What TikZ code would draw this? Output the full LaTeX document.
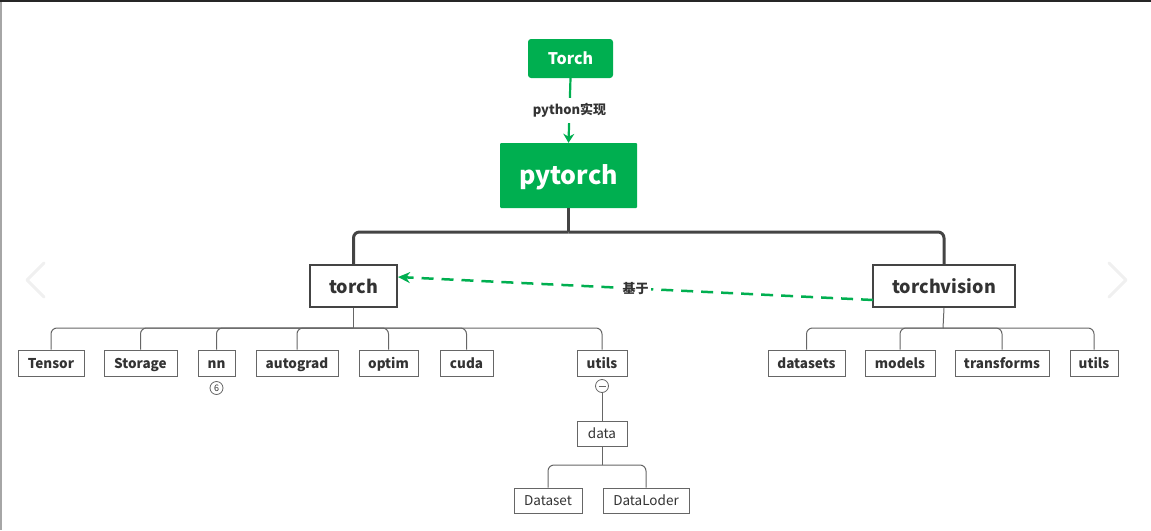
\documentclass[tikz,border=0pt]{standalone}
\usepackage{fontspec}
\setmainfont{Noto Sans CJK SC}
\usetikzlibrary{arrows.meta}
\definecolor{tgreen}{HTML}{00AF50}
\definecolor{dark}{HTML}{444444}
\definecolor{txt}{HTML}{333333}
\definecolor{lgray}{HTML}{666666}
\tikzset{
  greenbox/.style={fill=tgreen,text=white,font=\bfseries,rounded corners=3pt,inner sep=0pt},
  lvlone/.style={draw=dark,line width=2.5pt,fill=white,text=txt,inner sep=0pt,text height=16pt,text depth=2pt,font=\bfseries\fontsize{18}{22}\selectfont},
  leaf/.style={draw=lgray,line width=1pt,fill=white,text=txt,inner sep=0pt,minimum height=26pt,text height=12pt,text depth=2pt,font=\bfseries\fontsize{13.5}{16}\selectfont},
  leafr/.style={leaf,font=\fontsize{13.5}{16}\selectfont},
  trunk/.style={draw=dark,line width=3pt,rounded corners=6pt},
  branch/.style={draw=lgray,line width=1pt,rounded corners=6pt},
  gdash/.style={draw=tgreen,line width=2.5pt,dash pattern=on 12pt off 8pt},
  lbl/.style={fill=white,text=txt,inner sep=2pt,font=\bfseries\fontsize{13}{15}\selectfont},
  marker/.style={circle,draw=lgray,line width=0.8pt,fill=white,minimum size=13pt,inner sep=0pt,font=\fontsize{9}{10}\selectfont,text=txt},
  nav/.style={draw=gray!12,line width=3pt,line cap=round,line join=round}
}
\begin{document}
\begin{tikzpicture}[x=1pt,y=-1pt]
\useasboundingbox (0,0) rectangle (1151,530);
\fill[fill=black!85] (0,0) rectangle (1151,2);
\fill[fill=gray!70] (0,2) rectangle (1.5,530);
% nav chevrons
\draw[nav] (44,263) -- (27,280) -- (44,297);
\draw[nav] (1109,263) -- (1126,280) -- (1109,297);

% top nodes
\node[greenbox,minimum width=85pt,minimum height=39pt,text height=14pt,text depth=2pt,font=\bfseries\fontsize{16}{18}\selectfont] (Torch) at (570.5,58.5) {Torch};
\node[greenbox,rounded corners=1pt,minimum width=137pt,minimum height=65pt,text height=21pt,text depth=3pt,font=\bfseries\fontsize{25}{30}\selectfont] (pytorch) at (568.5,175.5) {pytorch};
\draw[tgreen,line width=2.2pt,-{Stealth[length=9pt,width=11pt]}] (Torch.south) -- node[lbl,inner sep=5pt] (impl) {python实现} (pytorch.north);

% level one
\node[lvlone,minimum width=87pt,minimum height=42pt] (torch) at (353.5,286) {torch};
\node[lvlone,minimum width=142pt,minimum height=42pt] (torchvision) at (944,286) {torchvision};
\coordinate (pt) at (568.5,232);
\draw[trunk] (pytorch.south) -- (pt);
\draw[trunk] (pt) -| (torch.north);
\draw[trunk] (pt) -| (torchvision.north);

% based-on arrow
\coordinate (tvw) at (873,300);
\coordinate (tre) at (398,277);
\draw[gdash,-{Stealth[length=12pt,width=11pt]}] (tvw) -- node[pos=0.5,lbl] (based) {基于} (tre);

% torch children
\node[leaf,minimum width=66pt] (Tensor) at (51,363) {Tensor};
\node[leaf,minimum width=73pt] (Storage) at (140.5,363) {Storage};
\node[leaf,minimum width=37pt] (nn) at (216.5,363) {nn};
\node[leaf,minimum width=82pt] (autograd) at (297,363) {autograd};
\node[leaf,minimum width=59pt] (optim) at (388.5,363) {optim};
\node[leaf,minimum width=53pt] (cuda) at (466.5,363) {cuda};
\node[leaf,minimum width=50pt] (utils) at (602,363) {utils};
\coordinate (tb) at (353.5,328);
\draw[branch] (torch.south) -- (tb);
\foreach \c in {Tensor,Storage,nn,autograd,optim,cuda,utils}
  \draw[branch] (tb) -| (\c.north);
\node[marker] (six) at (216.5,388) {6};
\node[marker] (minus) at (602,386) {};
\draw[lgray,line width=0.8pt] ([xshift=-3.5pt]minus.center) -- ([xshift=3.5pt]minus.center);

% utils -> data
\node[leafr,minimum width=50pt,minimum height=25pt] (data) at (602,433.5) {data};
\draw[branch] (minus.south) -- (data.north);
\node[leafr,minimum width=68pt,minimum height=25pt] (Dataset) at (548,500.5) {Dataset};
\node[leafr,minimum width=86pt,minimum height=25pt] (DataLoder) at (646,500.5) {DataLoder};
\coordinate (db) at (602,465);
\draw[branch] (data.south) -- (db);
\draw[branch] (db) -| (Dataset.north);
\draw[branch] (db) -| (DataLoder.north);

% torchvision children
\node[leaf,minimum width=77pt] (datasets) at (806.5,363) {datasets};
\node[leaf,minimum width=70pt] (models) at (900,363) {models};
\node[leaf,minimum width=94pt] (transforms) at (1002,363) {transforms};
\node[leaf,minimum width=48pt] (utilsv) at (1094,363) {utils};
\coordinate (vb) at (943,328);
\draw[branch] (torchvision.south) -- (vb);
\foreach \c in {datasets,models,transforms,utilsv}
  \draw[branch] (vb) -| (\c.north);
\end{tikzpicture}
\end{document}
